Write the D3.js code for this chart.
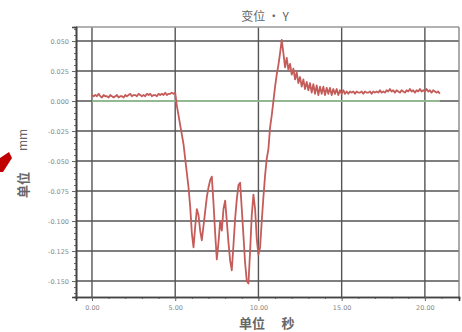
<!DOCTYPE html>
<html>
<head>
<meta charset="utf-8">
<script src="https://cdn.jsdelivr.net/npm/d3@7"></script>
<style>
  body { margin: 0; background: #fff; }
  .tick text { font-family: "DejaVu Sans", sans-serif; font-size: 6.5px; fill: #888; }
</style>
</head>
<body>
<div id="chart"></div>
<script>
var margin = { top: 27, right: 3, bottom: 35, left: 76 };
var w = 462, h = 332;
var width = w - margin.left - margin.right;
var height = h - margin.top - margin.bottom;

// time axis (s) and y axis (mm)
var xTicks = [0, 5, 10, 15, 20];
var xTickLabels = ["0.00", "5.00", "10.00", "15.00", "20.00"];
var yTicks = [0.05, 0.025, 0, -0.025, -0.05, -0.075, -0.1, -0.125, -0.15];
var yTickLabels = ["0.050", "0.025", "0.000", "-0.025", "-0.050", "-0.075", "-0.100", "-0.125", "-0.150"];

// samples every 0.1 s from t = 0
var tStart = 0, tStep = 0.1;
var dispY = [
  0.005, 0.004, 0.005, 0.004, 0.006, 0.004, 0.003, 0.005, 0.004, 0.004,
  0.003, 0.005, 0.004, 0.003, 0.004, 0.005, 0.003, 0.004, 0.004, 0.003,
  0.005, 0.004, 0.005, 0.006, 0.004, 0.005, 0.005, 0.004, 0.006, 0.005,
  0.004, 0.005, 0.004, 0.006, 0.005, 0.006, 0.004, 0.005, 0.005, 0.004,
  0.006, 0.005, 0.006, 0.005, 0.007, 0.005, 0.006, 0.006, 0.007, 0.006,
  0.007, -0.004, -0.012, -0.020, -0.028, -0.036, -0.048, -0.060, -0.072, -0.088,
  -0.110, -0.122, -0.105, -0.090, -0.095, -0.108, -0.116, -0.104, -0.092, -0.080,
  -0.072, -0.066, -0.063, -0.085, -0.110, -0.132, -0.118, -0.100, -0.108, -0.090,
  -0.083, -0.100, -0.118, -0.133, -0.141, -0.120, -0.098, -0.082, -0.070, -0.068,
  -0.090, -0.112, -0.135, -0.150, -0.152, -0.125, -0.095, -0.078, -0.090, -0.115,
  -0.128, -0.122, -0.100, -0.080, -0.062, -0.048, -0.040, -0.022, -0.012, 0.000,
  0.012, 0.022, 0.030, 0.040, 0.051, 0.040, 0.028, 0.036, 0.026, 0.031,
  0.022, 0.027, 0.018, 0.024, 0.015, 0.020, 0.012, 0.018, 0.010, 0.016,
  0.009, 0.015, 0.007, 0.014, 0.006, 0.013, 0.005, 0.012, 0.006, 0.012,
  0.005, 0.011, 0.006, 0.011, 0.005, 0.010, 0.006, 0.010, 0.005, 0.009,
  0.006, 0.009, 0.006, 0.008, 0.006, 0.008, 0.007, 0.008, 0.006, 0.008,
  0.007, 0.007, 0.008, 0.006, 0.008, 0.007, 0.007, 0.008, 0.006, 0.008,
  0.007, 0.008, 0.007, 0.009, 0.007, 0.008, 0.007, 0.009, 0.008, 0.010,
  0.008, 0.009, 0.007, 0.009, 0.008, 0.007, 0.009, 0.008, 0.007, 0.009,
  0.008, 0.010, 0.008, 0.009, 0.007, 0.009, 0.008, 0.010, 0.008, 0.009,
  0.008, 0.010, 0.008, 0.009, 0.007, 0.009, 0.008, 0.007, 0.008, 0.006
];

var data = dispY.map(function(v, i) { return { t: tStart + i * tStep, v: v }; });

var svg = d3.select("#chart")
  .append("svg")
    .attr("width", w)
    .attr("height", h);

var g = svg.append("g")
  .attr("transform", "translate(" + margin.left + "," + margin.top + ")");

// Create scale function
var xScale = d3.scaleLinear().domain([-0.96, 22.05]).range([0, width]);
var yScale = d3.scaleLinear().domain([0.0617, -0.1633]).range([0, height]);

// grid
g.append("g").selectAll("line")
  .data(xTicks)
  .enter().append("line")
  .attr("x1", function(d) { return xScale(d); })
  .attr("x2", function(d) { return xScale(d); })
  .attr("y1", 0).attr("y2", height)
  .attr("stroke", "#555").attr("stroke-width", 1.4);

g.append("g").selectAll("line")
  .data(yTicks)
  .enter().append("line")
  .attr("x1", 0).attr("x2", width)
  .attr("y1", function(d) { return yScale(d); })
  .attr("y2", function(d) { return yScale(d); })
  .attr("stroke", "#555").attr("stroke-width", 1.4);

// frame
g.append("line").attr("x1", 0).attr("x2", width).attr("y1", 0).attr("y2", 0)
  .attr("stroke", "#999").attr("stroke-width", 1.4);
g.append("line").attr("x1", width).attr("x2", width).attr("y1", 0).attr("y2", height)
  .attr("stroke", "#888").attr("stroke-width", 1.4);

// green zero line under the data
g.append("line")
  .attr("x1", xScale(data[0].t)).attr("x2", xScale(data[data.length - 1].t))
  .attr("y1", yScale(0)).attr("y2", yScale(0))
  .attr("stroke", "#9c9").attr("stroke-width", 1.4);

// Define X, Y axis
var xAxis = d3.axisBottom(xScale).tickValues(xTicks).tickSize(4)
  .tickFormat(function(d, i) { return xTickLabels[i]; });
var xMinor = d3.axisBottom(xScale).tickValues(d3.range(0, 22, 1)).tickSize(2).tickFormat("");
var yAxis = d3.axisLeft(yScale).tickValues(yTicks).tickSize(4)
  .tickFormat(function(d, i) { return yTickLabels[i]; });
var yMinor = d3.axisLeft(yScale).tickValues(d3.range(-0.16, 0.061, 0.005)).tickSize(2).tickFormat("");

g.append("g").attr("transform", "translate(0," + height + ")").call(xMinor);
g.append("g").attr("transform", "translate(0," + height + ")").call(xAxis)
  .selectAll("text").attr("dy", "0.9em");
g.append("g").call(yMinor);
g.append("g").call(yAxis);

g.selectAll(".domain").attr("stroke", "#444").attr("stroke-width", 1.6);
g.selectAll(".tick line").attr("stroke", "#666");

// Show the line
var line = d3.line()
  .x(function(d) { return xScale(d.t); })
  .y(function(d) { return yScale(d.v); });

g.append("path")
  .datum(data)
  .attr("fill", "none")
  .attr("stroke", "#c45c5a")
  .attr("stroke-width", 1.8)
  .attr("stroke-linejoin", "round")
  .attr("d", line);

// labels
var cjk = '"Noto Sans CJK SC", sans-serif';
svg.append("text").attr("x", 265).attr("y", 21).attr("text-anchor", "middle")
  .style("font-family", cjk).style("font-size", "12px").style("fill", "#666")
  .text("变位 · Y");

svg.append("text").attr("x", 252).attr("y", 328).attr("text-anchor", "middle")
  .style("font-family", cjk).style("font-size", "13px").style("font-weight", "bold").style("fill", "#666")
  .text("单位");
svg.append("text").attr("x", 288).attr("y", 328).attr("text-anchor", "middle")
  .style("font-family", cjk).style("font-size", "13px").style("font-weight", "bold").style("fill", "#666")
  .text("秒");

svg.append("text").attr("transform", "translate(28,185) rotate(-90)").attr("text-anchor", "middle")
  .style("font-family", cjk).style("font-size", "13px").style("font-weight", "bold").style("fill", "#666")
  .text("单位");
svg.append("text").attr("transform", "translate(27,140) rotate(-90)").attr("text-anchor", "middle")
  .style("font-family", cjk).style("font-size", "12px").style("fill", "#666")
  .text("mm");

// red marker cut at the left edge
svg.append("path")
  .attr("d", "M0,158 L9,152 L12,158 L3,172 L0,172 Z")
  .attr("fill", "#c00000");
</script>
</body>
</html>
